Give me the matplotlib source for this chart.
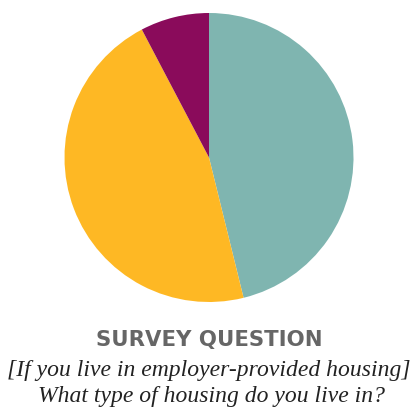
import matplotlib
matplotlib.use("Agg")
import matplotlib.pyplot as plt

# Survey responses by housing type
categories = ["Type A", "Type B", "Type C"]
counts = [6, 6, 1]
colors = ["#7fb5b0", "#feb824", "#8a0b5b"]

title = "SURVEY QUESTION"
question_lines = ["[If you live in employer-provided housing]",
                  "What type of housing do you live in?"]

fig = plt.figure(figsize=(4.12, 4.07), dpi=100)
W, H = 412, 407
cx, cy, r = 209, 157.5, 144.5
ax = fig.add_axes([(cx - r) / W, 1 - (cy + r) / H, 2 * r / W, 2 * r / H])
ax.pie(counts, colors=colors, startangle=90, counterclock=False,
       wedgeprops=dict(linewidth=0))
ax.set_aspect("equal")
ax.set_xlim(-1, 1)
ax.set_ylim(-1, 1)
ax.axis("off")

fig.text(209 / W, 1 - 346 / H, title, ha="center", va="baseline",
         fontsize=15.3, fontweight="bold", color="#666666", family="DejaVu Sans")
fig.text(209 / W, 1 - 376 / H, question_lines[0], ha="center", va="baseline",
         fontsize=17, style="italic", color="#222222", family="Liberation Serif")
fig.text(211 / W, 1 - 402 / H, question_lines[1], ha="center", va="baseline",
         fontsize=17, style="italic", color="#222222", family="Liberation Serif")

fig.savefig("out.png", dpi=100)
